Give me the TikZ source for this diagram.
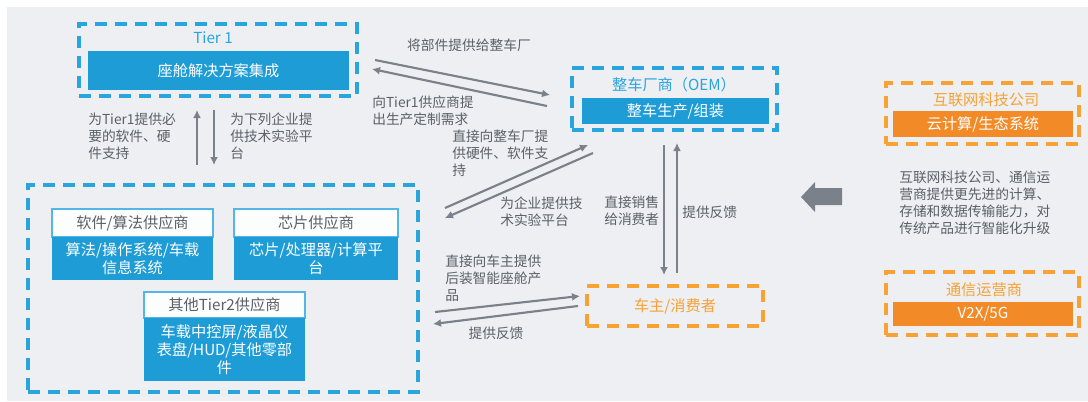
\documentclass[tikz,border=0pt]{standalone}
\usepackage{fontspec}
\setmainfont{Noto Sans CJK SC}
\usetikzlibrary{arrows.meta}

\definecolor{dashblue}{HTML}{29A4DD}
\definecolor{fillblue}{HTML}{1E9CD6}
\definecolor{dashorange}{HTML}{F7A233}
\definecolor{fillorange}{HTML}{F28B27}
\definecolor{arrowgray}{HTML}{7B818B}
\definecolor{labelgray}{HTML}{5B6068}
\definecolor{bggray}{HTML}{EDEFF2}

\tikzset{
  bluedash/.style={draw=dashblue, line width=2.3pt, dash pattern=on 9pt off 6pt, inner sep=0pt},
  orangedash/.style={draw=dashorange, line width=2.3pt, dash pattern=on 9pt off 6pt, inner sep=0pt},
  bluebar/.style={fill=fillblue, text=white, inner sep=0pt, align=center, font=\fontsize{11.4}{13.5}\selectfont},
  orangebar/.style={fill=fillorange, text=white, inner sep=0pt, align=center, font=\fontsize{11.4}{13.5}\selectfont},
  subhead/.style={draw=dashblue!80, line width=0.8pt, fill=white!85!bggray, text=labelgray, inner sep=0pt, font=\fontsize{11.4}{13.5}\selectfont},
  bluetitle/.style={text=dashblue, inner sep=0pt, font=\fontsize{11.4}{13.5}\selectfont},
  orangetitle/.style={text=dashorange, inner sep=0pt, font=\fontsize{11.4}{13.5}\selectfont},
  note/.style={text=labelgray, inner sep=0pt, align=left, font=\fontsize{10.3}{12.7}\selectfont},
  flow/.style={draw=arrowgray, line width=1.6pt, -{Latex[length=6pt,width=6pt]}}
}

\begin{document}
\begin{tikzpicture}[x=0.75pt, y=-0.75pt]
  % background
  \fill[white] (0,0) rectangle (1088,401);
  \fill[bggray] (7,7) rectangle (1088,401);
  \useasboundingbox (0,0) rectangle (1088,401);

  % Tier 1
  \node[bluedash, minimum width=208.5pt, minimum height=54pt] (tier1) at (218,60) {};
  \node[bluetitle] (tier1title) at (213,38) {Tier 1};
  \node[bluebar, minimum width=195.75pt, minimum height=29.25pt] (cockpit) at (218.5,70.5) {座舱解决方案集成};

  % Tier 2
  \node[bluedash, minimum width=292.5pt, minimum height=155.25pt] (tier2) at (223,288.5) {};
  \node[subhead, minimum width=120.75pt, minimum height=21pt] (softhead) at (132.5,223) {软件/算法供应商};
  \node[bluebar, minimum width=120.75pt, minimum height=32.25pt] (softbody) at (132.5,258.5) {算法/操作系统/车载\\信息系统};
  \node[subhead, minimum width=123pt, minimum height=21pt] (chiphead) at (316,223) {芯片供应商};
  \node[bluebar, minimum width=123pt, minimum height=32.25pt] (chipbody) at (316,258.5) {芯片/处理器/计算平\\台};
  \node[subhead, minimum width=120.75pt, minimum height=19.5pt] (otherhead) at (224.5,305) {其他Tier2供应商};
  \node[bluebar, minimum width=120.75pt, minimum height=47.25pt] (otherbody) at (224.5,349.5) {车载中控屏/液晶仪\\表盘/HUD/其他零部\\件};

  % OEM
  \node[bluedash, minimum width=153.75pt, minimum height=46.5pt] (oem) at (674.5,99) {};
  \node[bluetitle] (oemtitle) at (674,85) {整车厂商（OEM）};
  \node[bluebar, minimum width=140.25pt, minimum height=19.5pt] (assembly) at (675.5,111) {整车生产/组装};

  % consumer
  \node[orangedash, orangetitle, minimum width=132pt, minimum height=30pt] (owner) at (675,306) {车主/消费者};

  % internet + telecom
  \node[orangedash, minimum width=144.75pt, minimum height=45.75pt] (web) at (982.5,113.5) {};
  \node[orangetitle] (webtitle) at (986,100) {互联网科技公司};
  \node[orangebar, minimum width=135pt, minimum height=19.5pt] (cloud) at (983,124) {云计算/生态系统};
  \node[orangedash, minimum width=144.75pt, minimum height=47.25pt] (telecom) at (982.5,303.5) {};
  \node[orangetitle] (telecomtitle) at (984,290) {通信运营商};
  \node[orangebar, minimum width=135pt, minimum height=18pt] (vtwox) at (983,314) {V2X/5G};
  \node[note, anchor=north west] (webnote) at (899,171) {互联网科技公司、通信运\\营商提供更先进的计算、\\存储和数据传输能力，对\\传统产品进行智能化升级};

  % big arrow
  \fill[arrowgray] (801,197) -- (815,182) -- (815,188) -- (842,188) -- (842,205) -- (815,205) -- (815,212) -- cycle;

  % arrow ends
  \coordinate (t2up0) at (197,165);  \coordinate (t2up1) at (197,110);
  \coordinate (t1dn0) at (214,110);  \coordinate (t1dn1) at (214,165);
  \coordinate (t1o0) at (375,60);    \coordinate (t1o1) at (550,95);
  \coordinate (ot10) at (547,106);   \coordinate (ot11) at (372,69);
  \coordinate (t2o0) at (445,208);   \coordinate (t2o1) at (588,145);
  \coordinate (ot20) at (593,153);   \coordinate (ot21) at (445,218);
  \coordinate (oc0) at (664,145);    \coordinate (oc1) at (664,275);
  \coordinate (co0) at (677,273);    \coordinate (co1) at (677,143);
  \coordinate (t2c0) at (435,312);   \coordinate (t2c1) at (580,296);
  \coordinate (ct20) at (578,306);   \coordinate (ct21) at (433,324);

  \draw[flow] (t2up0) -- (t2up1);
  \draw[flow] (t1dn0) -- (t1dn1);
  \draw[flow] (t1o0) -- (t1o1);
  \draw[flow] (ot10) -- (ot11);
  \draw[flow] (t2o0) -- (t2o1);
  \draw[flow] (ot20) -- (ot21);
  \draw[flow] (oc0) -- (oc1);
  \draw[flow] (co0) -- (co1);
  \draw[flow] (t2c0) -- (t2c1);
  \draw[flow] (ct20) -- (ct21);

  % labels
  \node[note, anchor=north west] (lbsupport) at (88,113) {为Tier1提供必\\要的软件、硬\\件支持};
  \node[note, anchor=north west] (lbplatform) at (230,113) {为下列企业提\\供技术实验平\\台};
  \node[note] (lbparts) at (469,45) {将部件提供给整车厂};
  \node[note, anchor=north west] (lbdemand) at (372,96) {向Tier1供应商提\\出生产定制需求};
  \node[note, anchor=north west] (lbdirect) at (452,130) {直接向整车厂提\\供硬件、软件支\\持};
  \node[note, anchor=north west] (lbtest) at (500,197) {为企业提供技\\术实验平台};
  \node[note, anchor=north west] (lbsell) at (604,196) {直接销售\\给消费者};
  \node[note, anchor=north west] (lbfeedup) at (682,206) {提供反馈};
  \node[note, anchor=north west] (lbafter) at (445,255) {直接向车主提供\\后装智能座舱产\\品};
  \node[note] (lbfeedback) at (496,333) {提供反馈};
\end{tikzpicture}
\end{document}
